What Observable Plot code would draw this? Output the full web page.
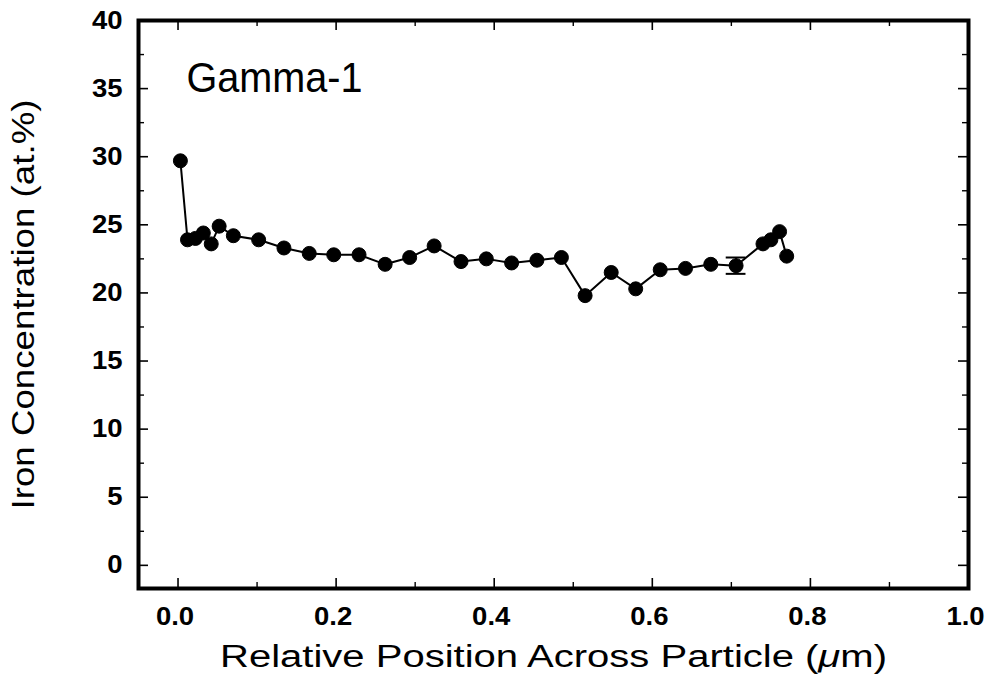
<!DOCTYPE html>
<html>
<head>
<meta charset="utf-8">
<script src="https://cdn.jsdelivr.net/npm/d3@7"></script>
<script src="https://cdn.jsdelivr.net/npm/@observablehq/plot@0.6"></script>
<style>
  html, body { margin: 0; padding: 0; background: #fff; }
  #chart svg { display: block; }
</style>
</head>
<body>
<div id="chart"></div>
<script>
// Iron concentration profile across a Gamma-1 particle
const panelLabel = "Gamma-1";
const xTitle = "Relative Position Across Particle (μm)";
const yTitle = "Iron Concentration (at.%)";

// Measured positions (μm) and iron concentrations (at.%)
const positions = [0.003, 0.012, 0.022, 0.032, 0.042, 0.052, 0.070, 0.102, 0.134, 0.166,
  0.197, 0.229, 0.262, 0.293, 0.324, 0.358, 0.390, 0.422, 0.454, 0.485,
  0.515, 0.548, 0.579, 0.610, 0.642, 0.674, 0.706, 0.740, 0.750, 0.761, 0.770];
const iron = [29.7, 23.9, 24.0, 24.4, 23.6, 24.9, 24.2, 23.9, 23.3, 22.9,
  22.8, 22.8, 22.1, 22.6, 23.45, 22.3, 22.5, 22.2, 22.4, 22.6,
  19.8, 21.5, 20.3, 21.7, 21.8, 22.1, 22.0, 23.6, 23.9, 24.5, 22.7];

// Representative error bar
const errPosition = [0.706];
const errLow = [21.4];
const errHigh = [22.6];

// Tick values
const xMajorTicks = [0, 0.2, 0.4, 0.6, 0.8, 1.0];
const xMinorTicks = [0.1, 0.3, 0.5, 0.7, 0.9];
const yMajorTicks = [0, 5, 10, 15, 20, 25, 30, 35, 40];
const yMinorTicks = [2.5, 7.5, 12.5, 17.5, 22.5, 27.5, 32.5, 37.5];

const data = positions.map((x, i) => ({x, y: iron[i]}));
const errors = errPosition.map((x, i) => ({x, lo: errLow[i], hi: errHigh[i]}));

const W = 985, H = 693;
const M = {top: 20, right: 17, bottom: 105, left: 138};
const frameW = W - M.left - M.right;
const frameH = H - M.top - M.bottom;
const capHalf = 0.0125;
const font = "'Liberation Sans', Arial, Helvetica, sans-serif";

// Inward tick marks on all four sides of the frame
function sideTicks(vals, len, sw) {
  return [
    Plot.tickX(vals.x, {x: d => d, insetTop: frameH - len, stroke: "black", strokeWidth: sw}),
    Plot.tickX(vals.x, {x: d => d, insetBottom: frameH - len, stroke: "black", strokeWidth: sw}),
    Plot.tickY(vals.y, {y: d => d, insetRight: frameW - len, stroke: "black", strokeWidth: sw}),
    Plot.tickY(vals.y, {y: d => d, insetLeft: frameW - len, stroke: "black", strokeWidth: sw})
  ];
}

const chart = Plot.plot({
  width: W,
  height: H,
  marginTop: M.top,
  marginRight: M.right,
  marginBottom: M.bottom,
  marginLeft: M.left,
  style: {fontFamily: font, background: "white", color: "black", overflow: "visible"},
  x: {domain: [-0.05, 1.0]},
  y: {domain: [-1.7, 40]},
  marks: [
    ...sideTicks({x: xMajorTicks, y: yMajorTicks}, 10, 1.6),
    ...sideTicks({x: xMinorTicks, y: yMinorTicks}, 6, 1.4),
    Plot.axisX(xMajorTicks, {anchor: "bottom", tickSize: 0, tickPadding: 19, tickFormat: d3.format(".1f"),
      fontSize: 25, fontWeight: "bold", label: null, dx: -3}),
    Plot.axisY(yMajorTicks, {anchor: "left", tickSize: 0, tickPadding: 16, tickFormat: d => String(d),
      fontSize: 25, fontWeight: "bold", label: null}),
    Plot.line(data, {x: "x", y: "y", stroke: "black", strokeWidth: 2}),
    Plot.ruleX(errors, {x: "x", y1: "lo", y2: "hi", stroke: "black", strokeWidth: 2}),
    Plot.ruleY(errors, {y: "lo", x1: d => d.x - capHalf, x2: d => d.x + capHalf, stroke: "black", strokeWidth: 2}),
    Plot.ruleY(errors, {y: "hi", x1: d => d.x - capHalf, x2: d => d.x + capHalf, stroke: "black", strokeWidth: 2}),
    Plot.dot(data, {x: "x", y: "y", r: 7, fill: "black", stroke: "black", strokeWidth: 1}),
    Plot.frame({stroke: "black", strokeWidth: 4}),
    Plot.text([panelLabel], {text: d => d, frameAnchor: "top-left", textAnchor: "start", lineAnchor: "top",
      dx: 48, dy: 41, fontSize: 43, fill: "black"}),
    Plot.text([xTitle], {text: d => d, frameAnchor: "bottom", textAnchor: "middle", lineAnchor: "middle",
      dy: 69, fontSize: 31, fill: "black"}),
    Plot.text([yTitle], {text: d => d, frameAnchor: "left", textAnchor: "middle", lineAnchor: "middle", rotate: -90,
      dx: -114, fontSize: 31, fill: "black"})
  ]
});

document.getElementById("chart").appendChild(chart);

const tickLabelSet = new Set([
  ...xMajorTicks.map(d3.format(".1f")),
  ...yMajorTicks.map(String)
]);

// Stretch the titles and tick labels to the wider set type, italicise the mu in the unit
d3.select(chart).selectAll("text").each(function () {
  const t = this.textContent;
  const sel = d3.select(this);
  if (t === xTitle) {
    sel.attr("textLength", 667).attr("lengthAdjust", "spacingAndGlyphs");
    const [before, after] = t.split("μ");
    this.textContent = "";
    sel.append("tspan").text(before);
    sel.append("tspan").attr("font-style", "italic").text("μ");
    sel.append("tspan").text(after);
  } else if (t === yTitle) {
    sel.attr("textLength", 410).attr("lengthAdjust", "spacingAndGlyphs");
  } else if (t === panelLabel) {
    sel.attr("textLength", 176).attr("lengthAdjust", "spacingAndGlyphs");
  } else if (tickLabelSet.has(t)) {
    const len = this.getComputedTextLength();
    if (len > 0) sel.attr("textLength", len * 1.1).attr("lengthAdjust", "spacingAndGlyphs");
  }
});
</script>
</body>
</html>
